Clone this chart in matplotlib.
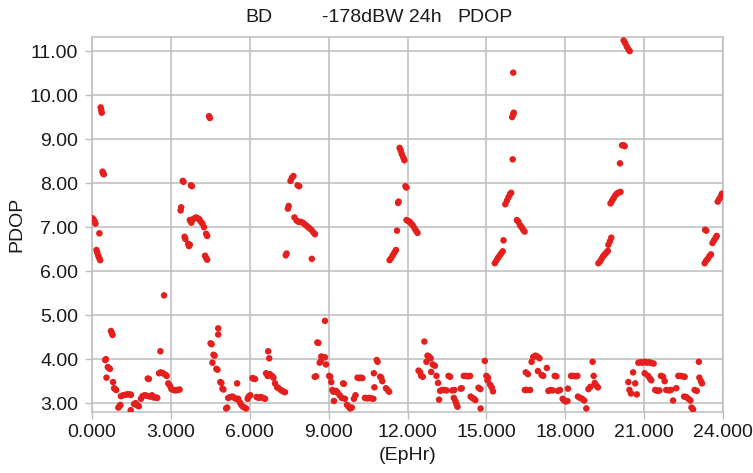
import matplotlib
matplotlib.use("Agg")
import matplotlib.pyplot as plt

# PDOP samples near the high peaks (EpHr, PDOP)
hours_high = [0.02, 0.06, 0.10, 0.13, 0.28, 0.17, 0.20, 0.24, 0.28, 0.31, 0.33, 0.35, 0.37, 0.40, 0.42, 0.45,
              3.37, 3.39, 3.45, 3.48, 3.52, 3.55, 3.66, 3.69, 3.72, 3.76, 3.80, 3.72, 3.78, 3.84, 3.90, 3.96,
              4.02, 4.08, 4.14, 4.20, 4.26, 4.34, 4.38, 4.30, 4.34, 4.38, 4.45, 4.48,
              7.37, 7.40, 7.45, 7.48, 7.55, 7.60, 7.66, 7.82, 7.88, 7.70, 7.78, 7.86, 7.94, 8.02, 8.10, 8.18,
              8.26, 8.34, 8.42, 8.48, 8.36,
              11.32, 11.38, 11.44, 11.50, 11.56, 11.60, 11.64, 11.66, 11.70, 11.74, 11.78, 11.84, 11.88, 11.92,
              11.96, 11.96, 12.02, 12.08, 12.14, 12.20, 12.26, 12.32, 12.38,
              15.32, 15.38, 15.44, 15.50, 15.56, 15.62, 15.65, 15.72, 15.78, 15.84, 15.90, 15.94, 16.00, 15.98,
              16.02, 16.04, 16.02, 16.16, 16.22, 16.28, 16.34, 16.40, 16.45,
              19.26, 19.32, 19.38, 19.44, 19.50, 19.56, 19.62, 19.64, 19.70, 19.75, 19.72, 19.78, 19.84, 19.90,
              19.96, 20.02, 20.10, 20.08, 20.16, 20.22, 20.26, 20.22, 20.28, 20.34, 20.40, 20.45,
              23.30, 23.36, 23.42, 23.48, 23.54, 23.32, 23.36, 23.60, 23.66, 23.72, 23.76, 23.80, 23.86, 23.92, 23.96]
pdop_high = [7.20, 7.17, 7.13, 7.08, 6.86, 6.48, 6.42, 6.35, 6.29, 6.25, 9.72, 9.66, 9.60, 8.26, 8.22, 8.20,
             7.38, 7.45, 8.05, 8.03, 6.78, 6.73, 6.62, 6.57, 6.60, 7.95, 7.93, 7.16, 7.10, 7.18, 7.20, 7.22,
             7.20, 7.18, 7.12, 7.08, 7.00, 6.85, 6.80, 6.35, 6.30, 6.26, 9.52, 9.48,
             6.36, 6.40, 7.42, 7.48, 8.05, 8.12, 8.16, 7.95, 7.93, 7.22, 7.15, 7.12, 7.12, 7.10, 7.06, 7.02,
             6.98, 6.94, 6.88, 6.84, 6.28,
             6.25, 6.30, 6.36, 6.42, 6.48, 6.92, 7.55, 7.58, 8.80, 8.74, 8.66, 8.58, 8.52, 7.93,
             7.90, 7.16, 7.14, 7.12, 7.08, 7.04, 6.98, 6.92, 6.87,
             6.18, 6.24, 6.30, 6.35, 6.40, 6.45, 6.70, 7.52, 7.60, 7.68, 7.75, 7.78, 8.54, 9.50,
             9.56, 9.60, 10.51, 7.16, 7.12, 7.04, 7.00, 6.94, 6.90,
             6.18, 6.22, 6.28, 6.34, 6.38, 6.42, 6.46, 6.60, 6.68, 6.76, 7.54, 7.60, 7.66, 7.72,
             7.76, 7.78, 7.80, 8.45, 8.86, 8.86, 8.84, 11.24, 11.18, 11.10, 11.04, 11.00,
             6.18, 6.24, 6.28, 6.34, 6.38, 6.94, 6.92, 6.64, 6.70, 6.76, 6.80, 7.58, 7.64, 7.70, 7.76]

# PDOP samples in the low bands
hours_low = [0.50, 0.53, 0.55, 0.60, 0.64, 0.68, 0.72, 0.75, 0.78, 0.80, 0.84, 0.88, 0.92, 1.00, 1.04, 1.08,
             1.10, 1.18, 1.26, 1.34, 1.42, 1.48, 1.47, 1.60, 1.66, 1.72, 1.78, 1.86, 1.92, 2.00, 2.08, 2.12,
             2.16, 2.20, 2.28, 2.34, 2.42, 2.48, 2.60, 2.55, 2.62, 2.70, 2.74, 2.78, 2.84, 2.90, 2.96, 3.02,
             3.10, 3.18, 3.26, 3.33,
             4.51, 4.55, 4.58, 4.62, 4.66, 4.73, 4.77, 4.80, 4.80, 4.88, 4.92, 4.96, 5.00, 5.10, 5.14, 5.18,
             5.26, 5.34, 5.42, 5.48, 5.52, 5.56, 5.62, 5.68, 5.74, 5.80, 5.86, 5.92, 5.96, 6.02, 6.10, 6.14,
             6.20, 6.26, 6.34, 6.42, 6.50, 6.58, 6.62, 6.70, 6.74, 6.68, 6.76, 6.84, 6.90, 6.96, 7.04, 7.10,
             7.18, 7.26, 7.34,
             8.47, 8.52, 8.57, 8.61, 8.66, 8.70, 8.72, 8.78, 8.86, 8.86, 8.90, 9.02, 9.06, 9.10, 9.14, 9.18,
             9.20, 9.28, 9.34, 9.42, 9.50, 9.55, 9.58, 9.62, 9.70, 9.76, 9.82, 9.88, 9.96, 10.02, 10.10, 10.16,
             10.22, 10.28, 10.38, 10.46, 10.54, 10.62, 10.70, 10.72, 10.74, 10.83, 10.86, 10.96, 11.00, 11.04,
             11.18, 11.24, 11.30,
             12.42, 12.48, 12.52, 12.58, 12.64, 12.72, 12.76, 12.82, 12.88, 12.90, 12.96, 13.04, 13.10, 13.16,
             13.20, 13.24, 13.32, 13.40, 13.48, 13.56, 13.62, 13.70, 13.78, 13.76, 13.82, 13.86, 13.90, 14.02,
             14.06, 14.14, 14.22, 14.30, 14.38, 14.40, 14.46, 14.52, 14.58, 14.70, 14.77, 14.78, 14.94, 15.00,
             15.06, 15.04, 15.14, 15.20, 15.25,
             16.46, 16.52, 16.50, 16.58, 16.66, 16.72, 16.78, 16.86, 16.94, 17.02, 16.96, 17.10, 17.16, 17.30,
             17.36, 17.44, 17.52, 17.60, 17.66, 17.72, 17.80, 17.90, 17.96, 18.02, 18.08, 18.10, 18.22, 18.30,
             18.40, 18.46, 18.48, 18.56, 18.64, 18.72, 18.80, 18.88, 18.95, 19.04, 19.08, 19.12, 19.18, 19.24,
             20.40, 20.44, 20.50, 20.58, 20.66, 20.72, 20.78, 20.86, 20.94, 21.02, 21.10, 21.18, 21.26, 21.36,
             21.02, 21.15, 21.22, 21.27, 21.42, 21.50, 21.58, 21.64, 21.72, 21.78, 21.84, 21.94, 22.02, 22.10,
             22.22, 22.30, 22.38, 22.46, 22.54, 22.52, 22.60, 22.68, 22.76, 22.80, 22.86, 22.92, 23.00, 23.08,
             23.10, 23.16, 23.20]
pdop_low = [3.98, 4.00, 3.58, 3.82, 3.80, 3.78, 4.64, 4.60, 4.55, 3.48, 3.34, 3.32, 3.30, 2.90, 2.93, 2.96,
            3.16, 3.18, 3.19, 3.20, 3.20, 3.19, 2.84, 2.98, 3.00, 2.95, 2.93, 3.10, 3.16, 3.18, 3.17, 3.56,
            3.55, 3.15, 3.18, 3.13, 3.13, 3.12, 4.18, 3.68, 3.70, 3.68, 5.45, 3.65, 3.62, 3.45, 3.40, 3.32,
            3.30, 3.29, 3.30, 3.31,
            4.36, 4.34, 3.92, 4.10, 4.08, 3.78, 3.76, 4.70, 4.56, 3.48, 3.46, 3.33, 3.31, 2.88, 2.90, 3.12,
            3.14, 3.15, 3.12, 3.10, 3.45, 3.10, 3.02, 2.96, 2.92, 2.90, 2.88, 3.10, 3.15, 3.18, 3.57, 3.56,
            3.55, 3.14, 3.12, 3.14, 3.12, 3.10, 3.68, 4.18, 4.02, 3.62, 3.66, 3.62, 3.58, 3.45, 3.36, 3.34,
            3.30, 3.27, 3.25,
            3.60, 3.61, 4.38, 4.37, 3.92, 3.95, 4.06, 4.05, 4.87, 4.04, 3.88, 3.62, 3.60, 3.48, 3.30, 3.26,
            3.05, 3.28, 3.24, 3.18, 3.12, 3.45, 3.44, 3.10, 2.96, 2.92, 2.88, 2.90, 3.10, 3.18, 3.58, 3.57,
            3.58, 3.57, 3.12, 3.11, 3.12, 3.11, 3.10, 3.68, 3.36, 3.98, 3.94, 3.60, 3.58, 3.50,
            3.34, 3.30, 3.26,
            3.74, 3.70, 3.62, 3.60, 4.40, 3.94, 4.08, 4.06, 4.02, 3.71, 3.88, 3.85, 3.62, 3.46,
            3.08, 3.28, 3.30, 3.30, 3.29, 3.62, 3.60, 3.29, 3.30, 3.12, 3.05, 2.98, 2.92, 3.33,
            3.34, 3.62, 3.62, 3.61, 3.62, 3.15, 3.12, 3.10, 3.07, 3.35, 3.32, 2.88, 3.96, 3.62,
            3.58, 3.52, 3.42, 3.36, 3.27,
            3.30, 3.30, 3.70, 3.66, 3.30, 3.94, 4.05, 4.08, 4.06, 4.02, 3.73, 3.64, 3.62, 3.80,
            3.28, 3.30, 3.29, 3.62, 3.61, 3.28, 3.30, 3.10, 3.06, 3.04, 3.05, 3.33, 3.62, 3.62,
            3.61, 3.62, 3.15, 3.12, 3.10, 3.06, 2.88, 3.32, 3.37, 3.94, 3.62, 3.46, 3.40, 3.36,
            3.48, 3.30, 3.22, 3.70, 3.45, 3.20, 3.92, 3.93, 3.92, 3.94, 3.92, 3.93, 3.92, 3.90,
            3.68, 3.62, 3.56, 3.52, 3.30, 3.28, 3.29, 3.62, 3.60, 3.50, 3.30, 3.29, 3.30, 3.06,
            3.34, 3.62, 3.62, 3.61, 3.60, 3.15, 3.14, 3.10, 3.06, 2.90, 2.86, 3.30, 3.28, 3.94,
            3.58, 3.50, 3.45]

x_ticks = [0, 3, 6, 9, 12, 15, 18, 21, 24]
y_ticks = [3, 4, 5, 6, 7, 8, 9, 10, 11]

plt.rcParams['font.family'] = ['Liberation Sans', 'DejaVu Sans']

fig = plt.figure(figsize=(7.53, 4.73), dpi=100)
ax = fig.add_axes([0.1222, 0.129, 0.838, 0.7928])

red = '#e3201e'
ax.scatter(hours_high, pdop_high, s=22, color=red, edgecolors='none', zorder=3)
ax.scatter(hours_low, pdop_low, s=22, color=red, edgecolors='none', zorder=3)

ax.set_xlim(0, 24)
ax.set_ylim(2.80, 11.32)
ax.set_xticks(x_ticks)
ax.set_yticks(y_ticks)
ax.set_xticklabels([f"{v:.3f}" for v in x_ticks])
ax.set_yticklabels([f"{v:.2f}" for v in y_ticks])
txt = '#1a1a1a'
ax.tick_params(length=5, width=1, color='#bdbdbd', labelsize=14, labelcolor=txt)
ax.tick_params(axis='y', pad=5)
ax.tick_params(axis='x', pad=4)
ax.grid(True, color='#bdbdbd', linewidth=1.1)
ax.set_axisbelow(True)
for sp in ax.spines.values():
    sp.set_color('#bdbdbd')
    sp.set_linewidth(1.1)

ax.set_ylabel("PDOP", fontsize=14, labelpad=3, color=txt)
ax.set_xlabel("(EpHr)", fontsize=14, labelpad=4, color=txt)

fig.text(258.5 / 753, 1 - 18 / 473, "BD", fontsize=14, ha='center', va='center', color=txt)
fig.text(322 / 753, 1 - 18 / 473, "-178dBW 24h", fontsize=14, ha='left', va='center', color=txt)
fig.text(457 / 753, 1 - 18 / 473, "PDOP", fontsize=14, ha='left', va='center', color=txt)

fig.savefig("out.png", dpi=100)
